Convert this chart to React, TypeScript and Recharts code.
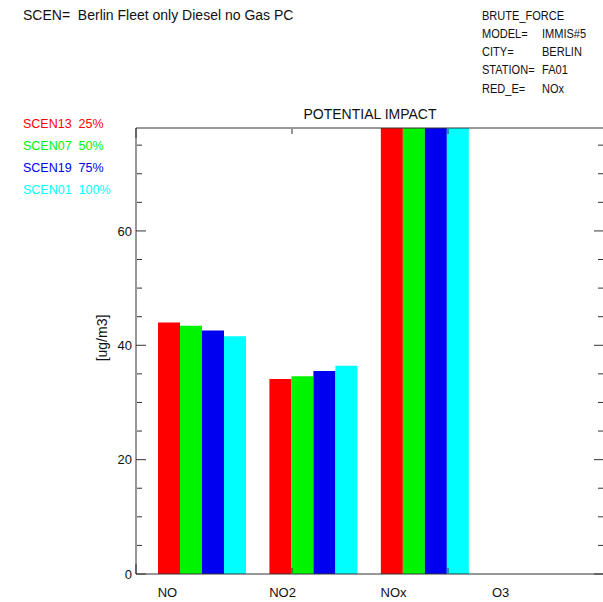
import React from 'react';
import { BarChart, Bar, XAxis, YAxis, Legend } from 'recharts';

// pollutant categories along the x axis
const CATEGORIES = ['NO', 'NO2', 'NOx', 'O3'];

// concentrations [ug/m3] per scenario (NOx runs off the top of the frame)
const SCEN13 = [44.0, 34.1, 101.6, 0];
const SCEN07 = [43.4, 34.6, 101.1, 0];
const SCEN19 = [42.6, 35.5, 100.8, 0];
const SCEN01 = [41.6, 36.4, 100.2, 0];

const SERIES = [
  { key: 'scen13', label: 'SCEN13  25%', color: '#ff0000', values: SCEN13 },
  { key: 'scen07', label: 'SCEN07  50%', color: '#00f400', values: SCEN07 },
  { key: 'scen19', label: 'SCEN19  75%', color: '#0000f0', values: SCEN19 },
  { key: 'scen01', label: 'SCEN01  100%', color: '#00ffff', values: SCEN01 },
];

const Y_MAX = 78;
const Y_MAJOR = [0, 20, 40, 60];
const Y_MINOR = [5, 10, 15, 25, 30, 35, 45, 50, 55, 65, 70, 75];
// one slot = empty gap + 4 bars; 4 categories plus one trailing unit
const X_UNITS = 21;
const X_MAJOR = [0, 5, 10, 15, 20];
const X_MINOR = [1, 2, 3, 4, 6, 7, 8, 9, 11, 12, 13, 14, 16, 17, 18, 19, 21];

const HEADER_LEFT = 'SCEN=  Berlin Fleet only Diesel no Gas PC';
const INFO_LABELS = ['BRUTE_FORCE', 'MODEL=', 'CITY=', 'STATION=', 'RED_E='];
const INFO_VALUES = ['', 'IMMIS#5', 'BERLIN', 'FA01', 'NOx'];

const data = CATEGORIES.map((name, i) => {
  const row: Record<string, string | number> = { name, gap: 0 };
  SERIES.forEach(s => { row[s.key] = s.values[i]; });
  return row;
});

const FONT = "'Liberation Sans', Arial, sans-serif";
const AXIS = '#333';
const TXT = '#111';
const PLOT_W = 468;

const CatTick = (props: any) => {
  const { x, y, payload } = props;
  // label sits left-aligned under the first bar of each group
  return (
    <text x={x - 34} y={y + 23} textAnchor="start" fontSize={13} fontFamily={FONT} fill={TXT}>
      {payload.value}
    </text>
  );
};

// tick marks only, no label (tick={false} would drop the marks too)
const NoLabel = () => <g />;

const LegendBox = () => (
  <svg width={130} height={100}>
    {SERIES.map((s, i) => (
      <text key={s.key} x={23} y={28.4 + i * 21.7} fontSize={12.5} fontFamily={FONT} fill={s.color}
        style={{ whiteSpace: 'pre' }}>
        {s.label}
      </text>
    ))}
  </svg>
);

// frame axes carrying only inward tick marks
const frameX = (id: string, orientation: 'top' | 'bottom', ticks: number[], size: number, line: boolean) => (
  <XAxis
    key={id}
    xAxisId={id}
    type="number"
    orientation={orientation}
    mirror
    height={1}
    domain={[0, X_UNITS]}
    allowDataOverflow
    ticks={ticks}
    interval={0}
    tickSize={size}
    tick={<NoLabel />}
    tickLine={{ stroke: AXIS }}
    stroke={AXIS}
    axisLine={line}
  />
);

const frameY = (id: string, orientation: 'left' | 'right', ticks: number[], size: number, line: boolean) => (
  <YAxis
    key={id}
    yAxisId={id}
    type="number"
    orientation={orientation}
    mirror
    width={1}
    domain={[0, Y_MAX]}
    allowDataOverflow
    ticks={ticks}
    interval={0}
    tickSize={size}
    tick={<NoLabel />}
    tickLine={{ stroke: AXIS }}
    stroke={AXIS}
    axisLine={line}
  />
);

export default function App() {
  return (
    <div style={{ position: 'absolute', left: 0, top: 0, width: 603, height: 602, overflow: 'hidden', background: '#fff' }}>
      <BarChart
        width={612}
        height={602}
        data={data}
        margin={{ top: 128, right: 8, bottom: 0, left: 0 }}
        barGap={0}
        barCategoryGap={0}
      >
        <XAxis
          xAxisId="cat"
          dataKey="name"
          height={28}
          padding={{ left: 0, right: PLOT_W / X_UNITS }}
          stroke={AXIS}
          tickLine={false}
          tickSize={0}
          tickMargin={0}
          interval={0}
          tick={<CatTick />}
        />
        <YAxis
          yAxisId="val"
          width={136}
          domain={[0, Y_MAX]}
          allowDataOverflow
          ticks={Y_MAJOR}
          interval={0}
          tickSize={0}
          tickMargin={4}
          tickLine={false}
          stroke={AXIS}
          tick={{ fontSize: 13, fontFamily: FONT, fill: TXT }}
        />
        {frameX('tmaj', 'top', X_MAJOR, 10, true)}
        {frameX('tmin', 'top', X_MINOR, 5, false)}
        {frameX('bmaj', 'bottom', X_MAJOR, 10, false)}
        {frameX('bmin', 'bottom', X_MINOR, 5, false)}
        {frameY('lmaj', 'left', Y_MAJOR, 10, false)}
        {frameY('lmin', 'left', Y_MINOR, 5, false)}
        {frameY('rmaj', 'right', Y_MAJOR, 10, true)}
        {frameY('rmin', 'right', Y_MINOR, 5, false)}
        <Legend
          layout="vertical"
          align="center"
          verticalAlign="middle"
          wrapperStyle={{ position: 'absolute', left: 0, top: 100, width: 130 }}
          content={<LegendBox />}
        />
        <Bar xAxisId="cat" yAxisId="val" dataKey="gap" fill="none" legendType="none" isAnimationActive={false} />
        {SERIES.map(s => (
          <Bar key={s.key} xAxisId="cat" yAxisId="val" dataKey={s.key} name={s.label}
            fill={s.color} isAnimationActive={false} />
        ))}
      </BarChart>

      <svg width={603} height={602} style={{ position: 'absolute', left: 0, top: 0, pointerEvents: 'none' }}>
        <text x={23} y={20} fontSize={14} fontFamily={FONT} fill={TXT} style={{ whiteSpace: 'pre' }}>
          {HEADER_LEFT}
        </text>
        {INFO_LABELS.map((l, i) => (
          <g key={l}>
            <text transform={`translate(482, ${19.5 + i * 18.3}) scale(0.85, 1)`} fontSize={13} fontFamily={FONT} fill={TXT}>{l}</text>
            {INFO_VALUES[i] && (
              <text transform={`translate(542, ${19.5 + i * 18.3}) scale(0.85, 1)`} fontSize={13} fontFamily={FONT} fill={TXT}>{INFO_VALUES[i]}</text>
            )}
          </g>
        ))}
        <text x={370} y={119} textAnchor="middle" fontSize={14} fontFamily={FONT} fill={TXT}>POTENTIAL IMPACT</text>
        <text transform="translate(107, 338) rotate(-90)" textAnchor="middle" fontSize={14} fontFamily={FONT} fill={TXT}>
          [ug/m3]
        </text>
      </svg>
    </div>
  );
}
